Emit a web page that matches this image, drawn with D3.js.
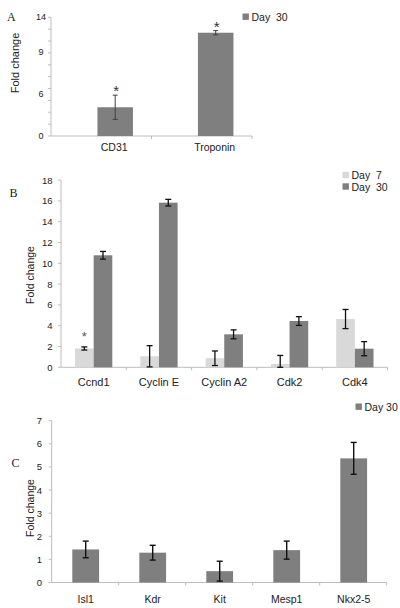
<!DOCTYPE html>
<html><head><meta charset="utf-8">
<script src="https://cdn.jsdelivr.net/npm/d3@7"></script>
<style>
html,body{margin:0;padding:0;background:#fff;}
svg{display:block;font-family:"Liberation Sans",Arial,sans-serif;}
text{white-space:pre;}
</style></head>
<body><svg id="c" width="400" height="608"></svg>
<script>
// ---- Panel A data ----
const catsA = ["CD31", "Troponin"];
const day30A = [3.39, 12.18];
const err30A = [1.43, 0.25];
const sigA = [true, true];
const tickLabelsA = ["0", "6", "9", "14"];
const tickLabelPosA = [0, 4.95, 9.87, 14];

// ---- Panel B data ----
const catsB = ["Ccnd1", "Cyclin E", "Cyclin A2", "Cdk2", "Cdk4"];
const day7B = [1.81, 1.06, 0.87, 0.32, 4.64];
const err7B = [0.15, 1.02, 0.70, 0.82, 0.92];
const sig7B = [true, false, false, false, false];
const day30B = [10.77, 15.83, 3.17, 4.45, 1.79];
const err30B = [0.37, 0.32, 0.43, 0.42, 0.68];
const tickLabelsB = ["0","2","4","6","8","10","12","14","16","18"];

// ---- Panel C data ----
const catsC = ["Isl1", "Kdr", "Kit", "Mesp1", "Nkx2-5"];
const day30C = [1.43, 1.29, 0.49, 1.40, 5.37];
const err30C = [0.36, 0.32, 0.43, 0.39, 0.69];
const tickLabelsC = ["0","1","2","3","4","5","6","7"];

const svg = d3.select("#c");
svg.append("rect").attr("width",400).attr("height",608).attr("fill","#fff");
const DARK = "#7f7f7f", LIGHT = "#d9d9d9", AXIS = "#bdbdbd", TXT = "#222";

function axesFrame(g, x, y, y0, yMax, nTicks, cats) {
  const [l, r] = x.range();
  g.append("line").attr("x1", l).attr("x2", l).attr("y1", y(0)).attr("y2", y(yMax))
    .attr("stroke", AXIS).attr("stroke-width", 1);
  d3.range(nTicks + 1).forEach(i => {
    const v = yMax * i / nTicks;
    g.append("line").attr("x1", l - 3).attr("x2", l).attr("y1", y(v)).attr("y2", y(v))
      .attr("stroke", AXIS);
  });
  g.append("line").attr("x1", l).attr("x2", r).attr("y1", y(0)).attr("y2", y(0))
    .attr("stroke", AXIS).attr("stroke-width", 1);
  cats.forEach((c, i) => {
    const bx = x(c) + x.step();
    g.append("line").attr("x1", bx).attr("x2", bx).attr("y1", y(0)).attr("y2", y(0) + 3)
      .attr("stroke", AXIS);
  });
}

function errBar(g, cx, y, v, e, cap, color, w) {
  const lo = Math.max(0, v - e), hi = v + e;
  g.append("line").attr("x1", cx).attr("x2", cx).attr("y1", y(lo)).attr("y2", y(hi))
    .attr("stroke", color).attr("stroke-width", w);
  [lo, hi].forEach(t => g.append("line").attr("x1", cx - cap).attr("x2", cx + cap)
    .attr("y1", y(t)).attr("y2", y(t)).attr("stroke", color).attr("stroke-width", w));
}

function yTitle(x, yc, size) {
  svg.append("text").attr("transform", `translate(${x},${yc}) rotate(-90)`)
    .attr("text-anchor", "middle").attr("dominant-baseline", "central")
    .attr("font-size", size).attr("fill", TXT).text("Fold change");
}
function letter(t, x, y) {
  svg.append("text").attr("x", x).attr("y", y).attr("font-family", "'Liberation Serif','Times New Roman',serif")
    .attr("font-size", 12).attr("fill", TXT).attr("dominant-baseline", "central").text(t);
}
function legendItem(x, yc, color, label) {
  svg.append("rect").attr("x", x).attr("y", yc - 3.2).attr("width", 6.4).attr("height", 6.4).attr("fill", color);
  svg.append("text").attr("x", x + 9).attr("y", yc).attr("dominant-baseline", "central")
    .attr("font-size", 10.5).attr("fill", TXT).text(label);
}

// ================= Panel A =================
(function () {
  const g = svg.append("g");
  const x = d3.scaleBand().domain(catsA).range([51, 252]);
  const y = d3.scaleLinear().domain([0, 14]).range([136, 17.3]);
  axesFrame(g, x, y, 0, 14, 10, catsA);
  const bw = 35.5;
  const bx = c => x(c) + x.bandwidth() / 2 - 3.8;
  g.selectAll(".barA").data(catsA).join("rect")
    .attr("x", c => bx(c)).attr("width", bw)
    .attr("y", (c, i) => y(day30A[i])).attr("height", (c, i) => y(0) - y(day30A[i]))
    .attr("fill", DARK);
  catsA.forEach((c, i) => {
    const cx = bx(c) + bw / 2;
    errBar(g, cx, y, day30A[i], err30A[i], 2.5, "#404040", 1);
    if (sigA[i]) g.append("text").attr("x", cx + 1).attr("y", y(day30A[i] + err30A[i]) + 1)
      .attr("text-anchor", "middle").attr("font-size", 15).attr("fill", "#333").text("*");
    g.append("text").attr("x", cx - 1).attr("y", 151).attr("text-anchor", "middle")
      .attr("font-size", 10.5).attr("fill", TXT).text(c);
  });
  tickLabelsA.forEach((t, i) => g.append("text").attr("x", 41).attr("y", y(tickLabelPosA[i]))
    .attr("text-anchor", "middle").attr("dominant-baseline", "central")
    .attr("font-size", 9).attr("fill", TXT).text(t));
  yTitle(15, 63, 11);
  letter("A", 7, 17);
  legendItem(242.5, 16.7, DARK, "Day  30");
})();

// ================= Panel B =================
(function () {
  const g = svg.append("g");
  const x = d3.scaleBand().domain(catsB).range([61, 387.5]);
  const y = d3.scaleLinear().domain([0, 18]).range([367.3, 180.1]);
  axesFrame(g, x, y, 0, 18, 9, catsB);
  const x1 = d3.scaleBand().domain(["Day 7", "Day 30"]).range([0, x.bandwidth()]).paddingOuter(0.75);
  const series = [
    { key: "Day 7", vals: day7B, errs: err7B, color: LIGHT },
    { key: "Day 30", vals: day30B, errs: err30B, color: DARK }
  ];
  series.forEach(s => {
    catsB.forEach((c, i) => {
      const bxl = x(c) + x1(s.key);
      g.append("rect").attr("x", bxl).attr("width", x1.bandwidth())
        .attr("y", y(s.vals[i])).attr("height", y(0) - y(s.vals[i])).attr("fill", s.color);
    });
  });
  series.forEach(s => {
    catsB.forEach((c, i) => {
      const cx = x(c) + x1(s.key) + x1.bandwidth() / 2;
      errBar(g, cx, y, s.vals[i], s.errs[i], 3, "#111", 1.3);
      if (s.key === "Day 7" && sig7B[i]) g.append("text").attr("x", cx).attr("y", y(s.vals[i] + s.errs[i]) - 5.5)
        .attr("text-anchor", "middle").attr("font-size", 13).attr("fill", "#555").text("*");
    });
  });
  catsB.forEach(c => g.append("text").attr("x", x(c) + x.bandwidth() / 2).attr("y", 385.5)
    .attr("text-anchor", "middle").attr("font-size", 11).attr("fill", TXT).text(c));
  tickLabelsB.forEach((t, i) => g.append("text").attr("x", 52.5).attr("y", y(i * 2))
    .attr("text-anchor", "end").attr("dominant-baseline", "central")
    .attr("font-size", 9.5).attr("fill", TXT).text(t));
  yTitle(29.5, 275, 10.5);
  letter("B", 9.5, 193);
  legendItem(342.5, 175, LIGHT, "Day  7");
  legendItem(342.5, 186.5, DARK, "Day  30");
})();

// ================= Panel C =================
(function () {
  const g = svg.append("g");
  const x = d3.scaleBand().domain(catsC).range([51.7, 386.7]);
  const y = d3.scaleLinear().domain([0, 7]).range([582.5, 420.7]);
  axesFrame(g, x, y, 0, 7, 7, catsC);
  const bw = x.bandwidth() * 0.4;
  catsC.forEach((c, i) => {
    const cx = x(c) + x.bandwidth() / 2 + 0.5;
    g.append("rect").attr("x", cx - bw / 2).attr("width", bw)
      .attr("y", y(day30C[i])).attr("height", y(0) - y(day30C[i])).attr("fill", DARK);
  });
  catsC.forEach((c, i) => {
    const cx = x(c) + x.bandwidth() / 2 + 0.5;
    errBar(g, cx, y, day30C[i], err30C[i], 3, "#111", 1.4);
    g.append("text").attr("x", cx).attr("y", 603).attr("text-anchor", "middle")
      .attr("font-size", 10.5).attr("fill", TXT).text(c);
  });
  tickLabelsC.forEach((t, i) => g.append("text").attr("x", 42).attr("y", y(i))
    .attr("text-anchor", "end").attr("dominant-baseline", "central")
    .attr("font-size", 9.5).attr("fill", TXT).text(t));
  yTitle(30, 508, 10.5);
  letter("C", 11.5, 463);
  legendItem(355.5, 406.7, DARK, "Day 30");
})();
</script></body></html>
